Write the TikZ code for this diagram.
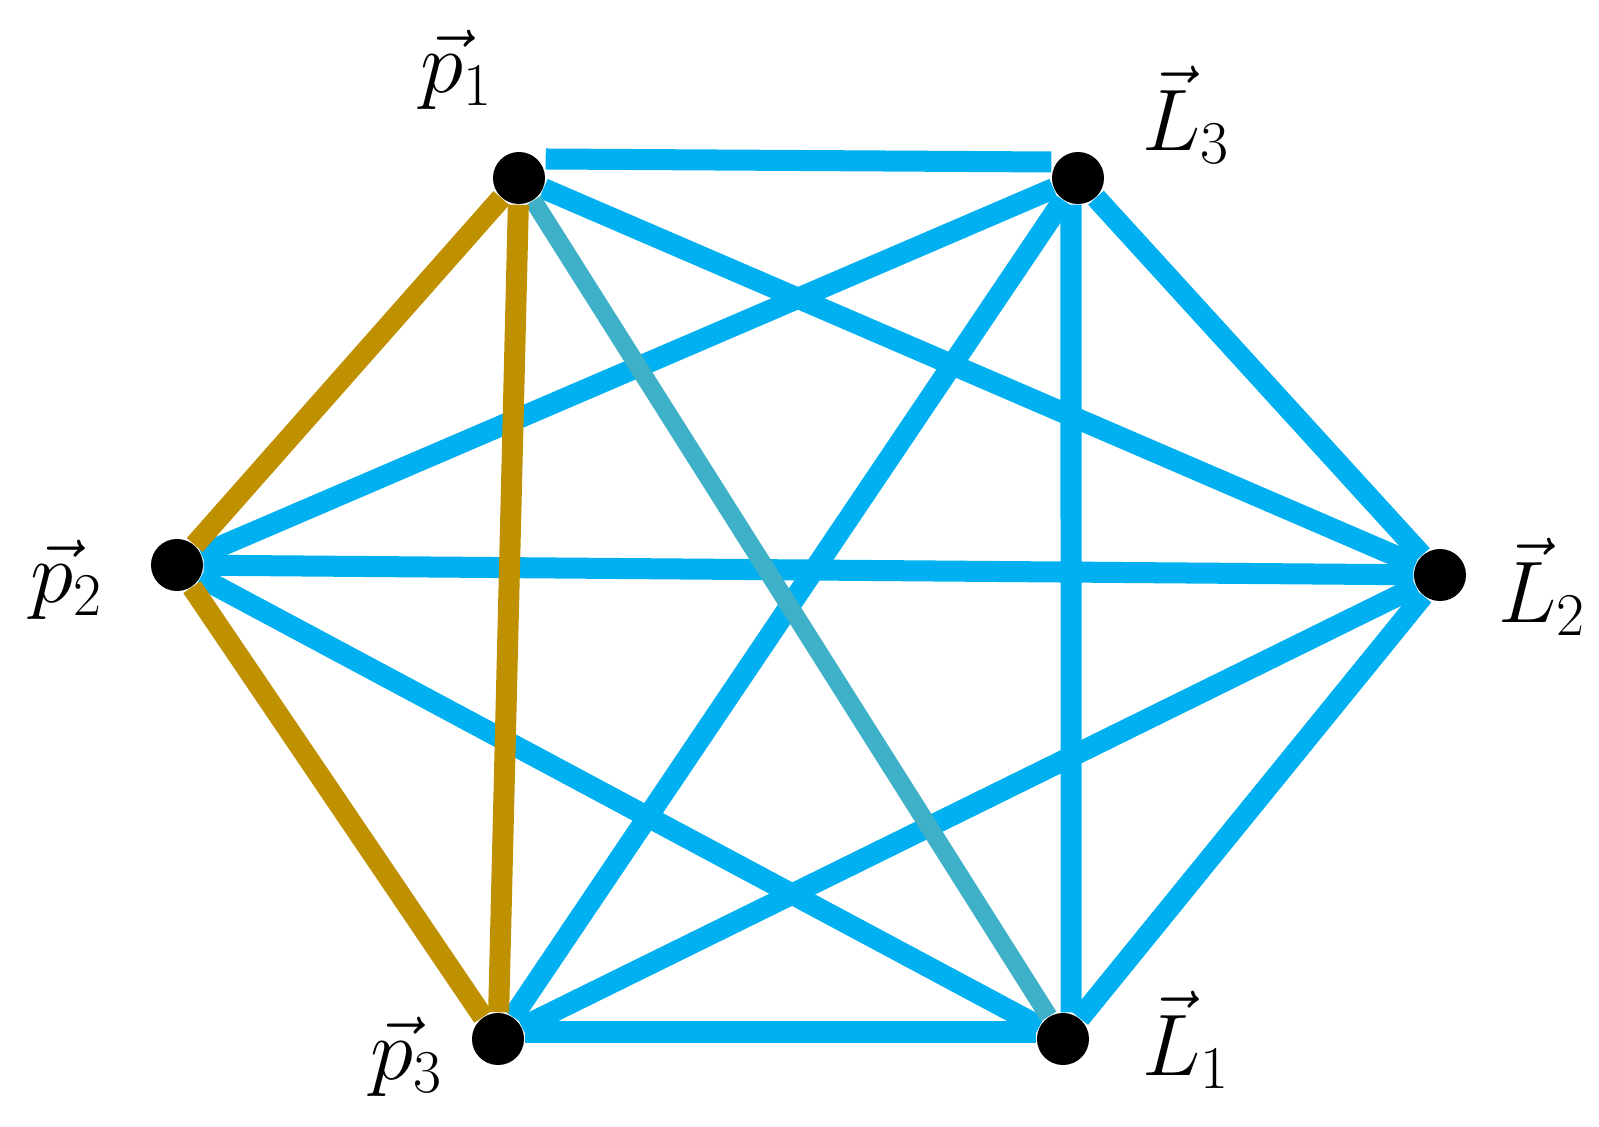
\documentclass[tikz,border=0pt]{standalone}
\usetikzlibrary{positioning}
\definecolor{edgeblue}{RGB}{0,176,240}
\definecolor{edgegold}{RGB}{191,144,0}
\definecolor{edgeteal}{RGB}{62,176,200}
\begin{document}
\begin{tikzpicture}[x=0.01cm,y=-0.01cm]
        \useasboundingbox (0,0) rectangle (1599,1127);
        \begin{scope}[every node/.style={circle,fill=black,inner sep=0pt,minimum size=0.52cm}]
            \node (p1) at (519,178)  {};
            \node (L3) at (1078,178) {};
            \node (p2) at (177,565)  {};
            \node (L2) at (1440,575) {};
            \node (p3) at (498,1039) {};
            \node (L1) at (1063,1039) {};
        \end{scope}
        \begin{scope}[every node/.style={inner sep=0pt},font=\fontsize{25}{30}\selectfont]
            \node (lp1) at (457,70)   {$\vec{p}_1$};
            \node (lL3) at (1186,115) {$\vec{L}_3$};
            \node (lp2) at (67,580)   {$\vec{p}_2$};
            \node (lL2) at (1542,587) {$\vec{L}_2$};
            \node (lp3) at (407,1057) {$\vec{p}_3$};
            \node (lL1) at (1186,1040) {$\vec{L}_1$};
        \end{scope}
        \begin{scope}[line width=0.21cm,edgeblue]
            \draw ([yshift=0.19cm]p1.east)--([yshift=0.16cm]L3.west);
            \draw ([yshift=0.07cm]p3.east)--([yshift=0.07cm]L1.west);
            \draw ([xshift=-0.07cm]L3.south)--([xshift=0.08cm]L1.north);
            \draw (p1)--(L2);
            \draw (L3)--(p2);
            \draw (L3)--(p3);
            \draw (L3)--(L2);
            \draw (p2)--(L2);
            \draw (p2)--(L1);
            \draw (L2)--(p3);
            \draw (L2)--(L1);
            \draw[edgeteal,line width=0.18cm] (p1)--(L1);
        \end{scope}
        \begin{scope}[line width=0.21cm,edgegold]
            \draw (p1)--(p2);
            \draw (p1)--(p3);
            \draw (p2)--(p3);
        \end{scope}
    \end{tikzpicture}
\end{document}
